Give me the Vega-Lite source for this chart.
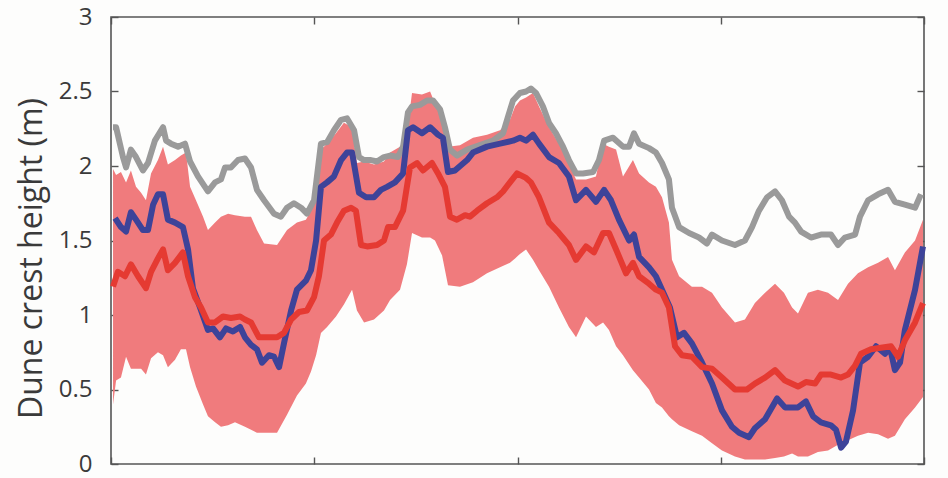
{
  "$schema": "https://vega.github.io/schema/vega-lite/v6.json",
  "width": 813,
  "height": 447,
  "autosize": {"type": "none"},
  "padding": {"left": 111, "top": 17, "right": 24, "bottom": 14},
  "background": "#fdfdfc",
  "config": {
    "font": "Open Sans",
    "view": {"stroke": "#555555", "strokeWidth": 1.6},
    "axis": {"grid": false, "domain": false, "tickColor": "#555555", "tickWidth": 1.4, "tickSize": 7, "offset": -7}
  },
  "datasets": {
    "band": [
      {"x": 0.010, "lo": 0.40, "hi": 1.98}, {"x": 0.025, "lo": 0.56, "hi": 1.94}, {"x": 0.049, "lo": 0.58, "hi": 1.96},
      {"x": 0.074, "lo": 0.72, "hi": 1.89}, {"x": 0.098, "lo": 0.64, "hi": 1.97}, {"x": 0.123, "lo": 0.64, "hi": 1.86},
      {"x": 0.148, "lo": 0.64, "hi": 1.82}, {"x": 0.172, "lo": 0.60, "hi": 1.77}, {"x": 0.197, "lo": 0.71, "hi": 1.95},
      {"x": 0.231, "lo": 0.75, "hi": 2.04}, {"x": 0.256, "lo": 0.73, "hi": 2.13}, {"x": 0.280, "lo": 0.65, "hi": 2.01},
      {"x": 0.315, "lo": 0.70, "hi": 2.04}, {"x": 0.344, "lo": 0.77, "hi": 2.07}, {"x": 0.369, "lo": 0.77, "hi": 2.09},
      {"x": 0.389, "lo": 0.65, "hi": 1.86}, {"x": 0.418, "lo": 0.52, "hi": 1.77}, {"x": 0.453, "lo": 0.40, "hi": 1.66},
      {"x": 0.477, "lo": 0.32, "hi": 1.57}, {"x": 0.512, "lo": 0.28, "hi": 1.62}, {"x": 0.541, "lo": 0.25, "hi": 1.66},
      {"x": 0.576, "lo": 0.26, "hi": 1.68}, {"x": 0.610, "lo": 0.28, "hi": 1.67}, {"x": 0.659, "lo": 0.25, "hi": 1.66},
      {"x": 0.689, "lo": 0.23, "hi": 1.66}, {"x": 0.718, "lo": 0.21, "hi": 1.57}, {"x": 0.753, "lo": 0.21, "hi": 1.48},
      {"x": 0.817, "lo": 0.21, "hi": 1.47}, {"x": 0.866, "lo": 0.33, "hi": 1.57}, {"x": 0.915, "lo": 0.46, "hi": 1.62},
      {"x": 0.959, "lo": 0.54, "hi": 1.64}, {"x": 0.984, "lo": 0.62, "hi": 1.70}, {"x": 1.009, "lo": 0.73, "hi": 1.93},
      {"x": 1.033, "lo": 0.88, "hi": 2.11}, {"x": 1.063, "lo": 0.92, "hi": 2.15}, {"x": 1.107, "lo": 0.99, "hi": 2.22},
      {"x": 1.146, "lo": 1.07, "hi": 2.29}, {"x": 1.186, "lo": 1.17, "hi": 2.26}, {"x": 1.210, "lo": 1.03, "hi": 2.02},
      {"x": 1.245, "lo": 0.95, "hi": 2.03}, {"x": 1.294, "lo": 0.97, "hi": 2.01}, {"x": 1.343, "lo": 1.03, "hi": 2.03},
      {"x": 1.373, "lo": 1.10, "hi": 2.09}, {"x": 1.422, "lo": 1.17, "hi": 2.13}, {"x": 1.456, "lo": 1.34, "hi": 2.22},
      {"x": 1.481, "lo": 1.55, "hi": 2.49}, {"x": 1.530, "lo": 1.52, "hi": 2.48}, {"x": 1.570, "lo": 1.52, "hi": 2.50},
      {"x": 1.594, "lo": 1.50, "hi": 2.42}, {"x": 1.629, "lo": 1.40, "hi": 2.31}, {"x": 1.658, "lo": 1.20, "hi": 2.13},
      {"x": 1.717, "lo": 1.19, "hi": 2.14}, {"x": 1.781, "lo": 1.22, "hi": 2.19}, {"x": 1.850, "lo": 1.28, "hi": 2.21},
      {"x": 1.914, "lo": 1.32, "hi": 2.24}, {"x": 1.963, "lo": 1.35, "hi": 2.31}, {"x": 1.988, "lo": 1.38, "hi": 2.40},
      {"x": 2.012, "lo": 1.41, "hi": 2.44}, {"x": 2.042, "lo": 1.44, "hi": 2.46}, {"x": 2.076, "lo": 1.37, "hi": 2.49},
      {"x": 2.106, "lo": 1.30, "hi": 2.40}, {"x": 2.155, "lo": 1.19, "hi": 2.26}, {"x": 2.204, "lo": 1.05, "hi": 2.15},
      {"x": 2.253, "lo": 0.92, "hi": 2.02}, {"x": 2.288, "lo": 0.85, "hi": 1.91}, {"x": 2.337, "lo": 0.99, "hi": 1.91},
      {"x": 2.386, "lo": 0.92, "hi": 1.93}, {"x": 2.421, "lo": 0.95, "hi": 2.15}, {"x": 2.450, "lo": 0.90, "hi": 2.13},
      {"x": 2.485, "lo": 0.79, "hi": 2.11}, {"x": 2.519, "lo": 0.73, "hi": 1.93}, {"x": 2.568, "lo": 0.63, "hi": 2.04},
      {"x": 2.598, "lo": 0.58, "hi": 1.95}, {"x": 2.647, "lo": 0.50, "hi": 1.89}, {"x": 2.681, "lo": 0.41, "hi": 1.86},
      {"x": 2.711, "lo": 0.38, "hi": 1.79}, {"x": 2.745, "lo": 0.32, "hi": 1.62}, {"x": 2.760, "lo": 0.30, "hi": 1.37},
      {"x": 2.795, "lo": 0.26, "hi": 1.26}, {"x": 2.858, "lo": 0.22, "hi": 1.19}, {"x": 2.908, "lo": 0.19, "hi": 1.19},
      {"x": 2.957, "lo": 0.14, "hi": 1.15}, {"x": 3.006, "lo": 0.09, "hi": 1.05}, {"x": 3.070, "lo": 0.05, "hi": 0.95},
      {"x": 3.119, "lo": 0.03, "hi": 0.97}, {"x": 3.168, "lo": 0.03, "hi": 1.08}, {"x": 3.218, "lo": 0.03, "hi": 1.15},
      {"x": 3.267, "lo": 0.04, "hi": 1.21}, {"x": 3.311, "lo": 0.05, "hi": 1.15}, {"x": 3.351, "lo": 0.07, "hi": 1.05},
      {"x": 3.380, "lo": 0.05, "hi": 1.01}, {"x": 3.429, "lo": 0.05, "hi": 1.15}, {"x": 3.478, "lo": 0.08, "hi": 1.17},
      {"x": 3.528, "lo": 0.09, "hi": 1.15}, {"x": 3.577, "lo": 0.13, "hi": 1.10}, {"x": 3.626, "lo": 0.16, "hi": 1.21},
      {"x": 3.675, "lo": 0.19, "hi": 1.28}, {"x": 3.725, "lo": 0.21, "hi": 1.32}, {"x": 3.774, "lo": 0.20, "hi": 1.35},
      {"x": 3.823, "lo": 0.17, "hi": 1.39}, {"x": 3.857, "lo": 0.19, "hi": 1.30}, {"x": 3.906, "lo": 0.30, "hi": 1.42},
      {"x": 3.956, "lo": 0.38, "hi": 1.50}, {"x": 3.995, "lo": 0.45, "hi": 1.64}
    ],
    "gray": [
      {"x": 0.010, "h": 2.26}, {"x": 0.025, "h": 2.26}, {"x": 0.059, "h": 2.06}, {"x": 0.074, "h": 1.99}, {"x": 0.098, "h": 2.11},
      {"x": 0.123, "h": 2.06}, {"x": 0.157, "h": 1.97}, {"x": 0.182, "h": 2.02}, {"x": 0.216, "h": 2.17}, {"x": 0.256, "h": 2.26},
      {"x": 0.271, "h": 2.17}, {"x": 0.295, "h": 2.15}, {"x": 0.330, "h": 2.13}, {"x": 0.364, "h": 2.15}, {"x": 0.389, "h": 2.03},
      {"x": 0.428, "h": 1.93}, {"x": 0.477, "h": 1.83}, {"x": 0.512, "h": 1.89}, {"x": 0.541, "h": 1.91}, {"x": 0.561, "h": 1.99},
      {"x": 0.590, "h": 1.99}, {"x": 0.625, "h": 2.04}, {"x": 0.659, "h": 2.05}, {"x": 0.689, "h": 1.99}, {"x": 0.718, "h": 1.84},
      {"x": 0.753, "h": 1.77}, {"x": 0.802, "h": 1.68}, {"x": 0.836, "h": 1.66}, {"x": 0.866, "h": 1.72}, {"x": 0.900, "h": 1.75},
      {"x": 0.935, "h": 1.72}, {"x": 0.964, "h": 1.68}, {"x": 0.999, "h": 1.77}, {"x": 1.033, "h": 2.15}, {"x": 1.063, "h": 2.16},
      {"x": 1.097, "h": 2.24}, {"x": 1.132, "h": 2.31}, {"x": 1.161, "h": 2.32}, {"x": 1.196, "h": 2.24}, {"x": 1.220, "h": 2.06},
      {"x": 1.245, "h": 2.04}, {"x": 1.279, "h": 2.04}, {"x": 1.309, "h": 2.03}, {"x": 1.343, "h": 2.06}, {"x": 1.373, "h": 2.07},
      {"x": 1.412, "h": 2.06}, {"x": 1.437, "h": 2.13}, {"x": 1.461, "h": 2.36}, {"x": 1.481, "h": 2.40}, {"x": 1.520, "h": 2.41},
      {"x": 1.555, "h": 2.44}, {"x": 1.584, "h": 2.44}, {"x": 1.619, "h": 2.38}, {"x": 1.643, "h": 2.26}, {"x": 1.668, "h": 2.11},
      {"x": 1.702, "h": 2.07}, {"x": 1.752, "h": 2.11}, {"x": 1.815, "h": 2.14}, {"x": 1.879, "h": 2.17}, {"x": 1.929, "h": 2.22},
      {"x": 1.953, "h": 2.33}, {"x": 1.978, "h": 2.44}, {"x": 2.012, "h": 2.49}, {"x": 2.042, "h": 2.50}, {"x": 2.066, "h": 2.52},
      {"x": 2.091, "h": 2.49}, {"x": 2.125, "h": 2.40}, {"x": 2.155, "h": 2.29}, {"x": 2.189, "h": 2.22}, {"x": 2.224, "h": 2.13},
      {"x": 2.253, "h": 2.04}, {"x": 2.288, "h": 1.95}, {"x": 2.322, "h": 1.95}, {"x": 2.372, "h": 1.96}, {"x": 2.401, "h": 2.04},
      {"x": 2.426, "h": 2.17}, {"x": 2.470, "h": 2.19}, {"x": 2.519, "h": 2.13}, {"x": 2.549, "h": 2.13}, {"x": 2.573, "h": 2.22},
      {"x": 2.598, "h": 2.15}, {"x": 2.647, "h": 2.12}, {"x": 2.681, "h": 2.09}, {"x": 2.711, "h": 2.02}, {"x": 2.745, "h": 1.91},
      {"x": 2.760, "h": 1.72}, {"x": 2.795, "h": 1.59}, {"x": 2.844, "h": 1.55}, {"x": 2.893, "h": 1.52}, {"x": 2.932, "h": 1.48},
      {"x": 2.957, "h": 1.54}, {"x": 3.006, "h": 1.50}, {"x": 3.070, "h": 1.47}, {"x": 3.119, "h": 1.50}, {"x": 3.154, "h": 1.59},
      {"x": 3.188, "h": 1.70}, {"x": 3.228, "h": 1.79}, {"x": 3.267, "h": 1.83}, {"x": 3.301, "h": 1.77}, {"x": 3.336, "h": 1.66},
      {"x": 3.365, "h": 1.62}, {"x": 3.395, "h": 1.56}, {"x": 3.444, "h": 1.52}, {"x": 3.493, "h": 1.54}, {"x": 3.542, "h": 1.54},
      {"x": 3.577, "h": 1.47}, {"x": 3.611, "h": 1.52}, {"x": 3.661, "h": 1.54}, {"x": 3.685, "h": 1.66}, {"x": 3.725, "h": 1.77},
      {"x": 3.774, "h": 1.81}, {"x": 3.823, "h": 1.84}, {"x": 3.857, "h": 1.76}, {"x": 3.906, "h": 1.74}, {"x": 3.956, "h": 1.72},
      {"x": 3.985, "h": 1.81}
    ],
    "blue": [
      {"x": 0.020, "h": 1.65}, {"x": 0.049, "h": 1.59}, {"x": 0.074, "h": 1.56}, {"x": 0.098, "h": 1.69}, {"x": 0.123, "h": 1.64},
      {"x": 0.157, "h": 1.57}, {"x": 0.182, "h": 1.57}, {"x": 0.207, "h": 1.74}, {"x": 0.231, "h": 1.81}, {"x": 0.256, "h": 1.81},
      {"x": 0.280, "h": 1.64}, {"x": 0.315, "h": 1.62}, {"x": 0.354, "h": 1.59}, {"x": 0.379, "h": 1.44}, {"x": 0.403, "h": 1.18},
      {"x": 0.438, "h": 1.05}, {"x": 0.477, "h": 0.90}, {"x": 0.502, "h": 0.91}, {"x": 0.536, "h": 0.85}, {"x": 0.566, "h": 0.91},
      {"x": 0.600, "h": 0.89}, {"x": 0.635, "h": 0.92}, {"x": 0.659, "h": 0.85}, {"x": 0.689, "h": 0.80}, {"x": 0.718, "h": 0.77},
      {"x": 0.743, "h": 0.68}, {"x": 0.777, "h": 0.73}, {"x": 0.802, "h": 0.72}, {"x": 0.827, "h": 0.65}, {"x": 0.851, "h": 0.81},
      {"x": 0.886, "h": 1.03}, {"x": 0.915, "h": 1.17}, {"x": 0.959, "h": 1.23}, {"x": 0.984, "h": 1.30}, {"x": 1.009, "h": 1.50},
      {"x": 1.033, "h": 1.86}, {"x": 1.063, "h": 1.89}, {"x": 1.097, "h": 1.93}, {"x": 1.132, "h": 2.04}, {"x": 1.161, "h": 2.09},
      {"x": 1.186, "h": 2.09}, {"x": 1.220, "h": 1.82}, {"x": 1.255, "h": 1.79}, {"x": 1.294, "h": 1.79}, {"x": 1.328, "h": 1.84},
      {"x": 1.358, "h": 1.86}, {"x": 1.397, "h": 1.89}, {"x": 1.437, "h": 1.95}, {"x": 1.461, "h": 2.24}, {"x": 1.486, "h": 2.26},
      {"x": 1.530, "h": 2.22}, {"x": 1.570, "h": 2.26}, {"x": 1.609, "h": 2.21}, {"x": 1.633, "h": 2.19}, {"x": 1.658, "h": 1.96},
      {"x": 1.692, "h": 1.97}, {"x": 1.752, "h": 2.04}, {"x": 1.781, "h": 2.09}, {"x": 1.850, "h": 2.13}, {"x": 1.914, "h": 2.15},
      {"x": 1.978, "h": 2.17}, {"x": 2.012, "h": 2.19}, {"x": 2.042, "h": 2.17}, {"x": 2.076, "h": 2.21}, {"x": 2.106, "h": 2.15},
      {"x": 2.155, "h": 2.06}, {"x": 2.204, "h": 2.02}, {"x": 2.253, "h": 1.93}, {"x": 2.288, "h": 1.77}, {"x": 2.337, "h": 1.84},
      {"x": 2.386, "h": 1.76}, {"x": 2.426, "h": 1.84}, {"x": 2.460, "h": 1.77}, {"x": 2.499, "h": 1.64}, {"x": 2.549, "h": 1.50},
      {"x": 2.573, "h": 1.54}, {"x": 2.598, "h": 1.39}, {"x": 2.647, "h": 1.32}, {"x": 2.681, "h": 1.26}, {"x": 2.711, "h": 1.17},
      {"x": 2.750, "h": 1.05}, {"x": 2.785, "h": 0.85}, {"x": 2.819, "h": 0.88}, {"x": 2.858, "h": 0.81}, {"x": 2.908, "h": 0.68},
      {"x": 2.957, "h": 0.54}, {"x": 3.006, "h": 0.36}, {"x": 3.055, "h": 0.25}, {"x": 3.090, "h": 0.21}, {"x": 3.139, "h": 0.18},
      {"x": 3.168, "h": 0.24}, {"x": 3.218, "h": 0.30}, {"x": 3.277, "h": 0.44}, {"x": 3.316, "h": 0.38}, {"x": 3.380, "h": 0.38},
      {"x": 3.419, "h": 0.42}, {"x": 3.454, "h": 0.32}, {"x": 3.493, "h": 0.28}, {"x": 3.542, "h": 0.26}, {"x": 3.567, "h": 0.23},
      {"x": 3.592, "h": 0.11}, {"x": 3.616, "h": 0.15}, {"x": 3.651, "h": 0.36}, {"x": 3.685, "h": 0.68}, {"x": 3.725, "h": 0.72},
      {"x": 3.764, "h": 0.79}, {"x": 3.808, "h": 0.74}, {"x": 3.833, "h": 0.78}, {"x": 3.857, "h": 0.63}, {"x": 3.882, "h": 0.68},
      {"x": 3.906, "h": 0.90}, {"x": 3.956, "h": 1.17}, {"x": 3.995, "h": 1.46}
    ],
    "red": [
      {"x": 0.010, "h": 1.19}, {"x": 0.034, "h": 1.29}, {"x": 0.069, "h": 1.26}, {"x": 0.098, "h": 1.34}, {"x": 0.133, "h": 1.26},
      {"x": 0.172, "h": 1.18}, {"x": 0.197, "h": 1.29}, {"x": 0.231, "h": 1.38}, {"x": 0.256, "h": 1.44}, {"x": 0.280, "h": 1.30},
      {"x": 0.315, "h": 1.35}, {"x": 0.354, "h": 1.42}, {"x": 0.379, "h": 1.26}, {"x": 0.413, "h": 1.12}, {"x": 0.443, "h": 1.05},
      {"x": 0.477, "h": 0.95}, {"x": 0.512, "h": 0.95}, {"x": 0.551, "h": 0.99}, {"x": 0.590, "h": 0.98}, {"x": 0.635, "h": 0.99},
      {"x": 0.659, "h": 0.97}, {"x": 0.689, "h": 0.95}, {"x": 0.728, "h": 0.85}, {"x": 0.768, "h": 0.85}, {"x": 0.817, "h": 0.85},
      {"x": 0.851, "h": 0.88}, {"x": 0.886, "h": 0.97}, {"x": 0.925, "h": 1.02}, {"x": 0.964, "h": 1.03}, {"x": 0.999, "h": 1.12},
      {"x": 1.023, "h": 1.26}, {"x": 1.048, "h": 1.50}, {"x": 1.082, "h": 1.54}, {"x": 1.112, "h": 1.62}, {"x": 1.146, "h": 1.70},
      {"x": 1.181, "h": 1.72}, {"x": 1.205, "h": 1.70}, {"x": 1.230, "h": 1.47}, {"x": 1.260, "h": 1.46}, {"x": 1.309, "h": 1.47},
      {"x": 1.343, "h": 1.50}, {"x": 1.363, "h": 1.59}, {"x": 1.397, "h": 1.59}, {"x": 1.437, "h": 1.70}, {"x": 1.471, "h": 1.99},
      {"x": 1.506, "h": 2.02}, {"x": 1.535, "h": 1.97}, {"x": 1.579, "h": 2.02}, {"x": 1.609, "h": 1.95}, {"x": 1.643, "h": 1.86},
      {"x": 1.668, "h": 1.66}, {"x": 1.702, "h": 1.64}, {"x": 1.742, "h": 1.67}, {"x": 1.766, "h": 1.66}, {"x": 1.801, "h": 1.70},
      {"x": 1.850, "h": 1.75}, {"x": 1.899, "h": 1.79}, {"x": 1.929, "h": 1.83}, {"x": 1.963, "h": 1.89}, {"x": 1.998, "h": 1.95},
      {"x": 2.042, "h": 1.92}, {"x": 2.066, "h": 1.89}, {"x": 2.106, "h": 1.79}, {"x": 2.155, "h": 1.62}, {"x": 2.204, "h": 1.55},
      {"x": 2.253, "h": 1.47}, {"x": 2.288, "h": 1.37}, {"x": 2.337, "h": 1.46}, {"x": 2.376, "h": 1.42}, {"x": 2.421, "h": 1.55},
      {"x": 2.450, "h": 1.55}, {"x": 2.485, "h": 1.44}, {"x": 2.534, "h": 1.28}, {"x": 2.568, "h": 1.35}, {"x": 2.598, "h": 1.26},
      {"x": 2.647, "h": 1.21}, {"x": 2.681, "h": 1.17}, {"x": 2.711, "h": 1.15}, {"x": 2.745, "h": 1.05}, {"x": 2.775, "h": 0.79},
      {"x": 2.809, "h": 0.73}, {"x": 2.858, "h": 0.72}, {"x": 2.908, "h": 0.65}, {"x": 2.957, "h": 0.64}, {"x": 3.006, "h": 0.58},
      {"x": 3.070, "h": 0.50}, {"x": 3.129, "h": 0.50}, {"x": 3.168, "h": 0.54}, {"x": 3.218, "h": 0.58}, {"x": 3.267, "h": 0.63},
      {"x": 3.316, "h": 0.56}, {"x": 3.380, "h": 0.52}, {"x": 3.419, "h": 0.55}, {"x": 3.464, "h": 0.54}, {"x": 3.493, "h": 0.60},
      {"x": 3.542, "h": 0.60}, {"x": 3.592, "h": 0.58}, {"x": 3.626, "h": 0.60}, {"x": 3.661, "h": 0.66}, {"x": 3.690, "h": 0.74},
      {"x": 3.739, "h": 0.77}, {"x": 3.788, "h": 0.78}, {"x": 3.838, "h": 0.79}, {"x": 3.872, "h": 0.72}, {"x": 3.906, "h": 0.83},
      {"x": 3.956, "h": 0.95}, {"x": 3.995, "h": 1.08}
    ]
  },
  "resolve": {"axis": {"x": "independent", "y": "independent"}},
  "layer": [
    {
      "data": {"name": "band"},
      "mark": {"type": "area", "color": "#f07b7d", "opacity": 1},
      "encoding": {
        "x": {"field": "x", "type": "quantitative", "scale": {"domain": [0, 4], "nice": false, "zero": false},
              "axis": {"orient": "bottom", "values": [0, 1, 2, 3, 4], "labels": false, "title": null}},
        "y": {"field": "lo", "type": "quantitative", "scale": {"domain": [0, 3], "nice": false},
              "axis": {"orient": "left", "values": [0, 0.5, 1, 1.5, 2, 2.5, 3], "format": "~g", "labelPadding": 19,
                       "labelFontSize": 24, "labelColor": "#3a3a3a", "labelFont": "Open Sans",
                       "title": "Dune crest height (m)", "titleFontSize": 32, "titleFontWeight": "normal",
                       "titleColor": "#3a3a3a", "titleFont": "Open Sans", "titlePadding": 10,
                       "titleY": 241}},
        "y2": {"field": "hi"}
      }
    },
    {
      "data": {"name": "gray"},
      "mark": {"type": "line", "color": "#9a9a9a", "strokeWidth": 6, "strokeJoin": "round"},
      "encoding": {
        "x": {"field": "x", "type": "quantitative",
              "axis": {"orient": "top", "values": [0, 1, 2, 3, 4], "labels": false, "title": null}},
        "y": {"field": "h", "type": "quantitative",
              "axis": {"orient": "right", "values": [0, 0.5, 1, 1.5, 2, 2.5, 3], "labels": false, "title": null}}
      }
    },
    {
      "data": {"name": "blue"},
      "mark": {"type": "line", "color": "#3d4399", "strokeWidth": 6, "strokeJoin": "round"},
      "encoding": {
        "x": {"field": "x", "type": "quantitative", "axis": null},
        "y": {"field": "h", "type": "quantitative", "axis": null}
      }
    },
    {
      "data": {"name": "red"},
      "mark": {"type": "line", "color": "#e53a32", "strokeWidth": 6, "strokeJoin": "round"},
      "encoding": {
        "x": {"field": "x", "type": "quantitative", "axis": null},
        "y": {"field": "h", "type": "quantitative", "axis": null}
      }
    }
  ]
}
